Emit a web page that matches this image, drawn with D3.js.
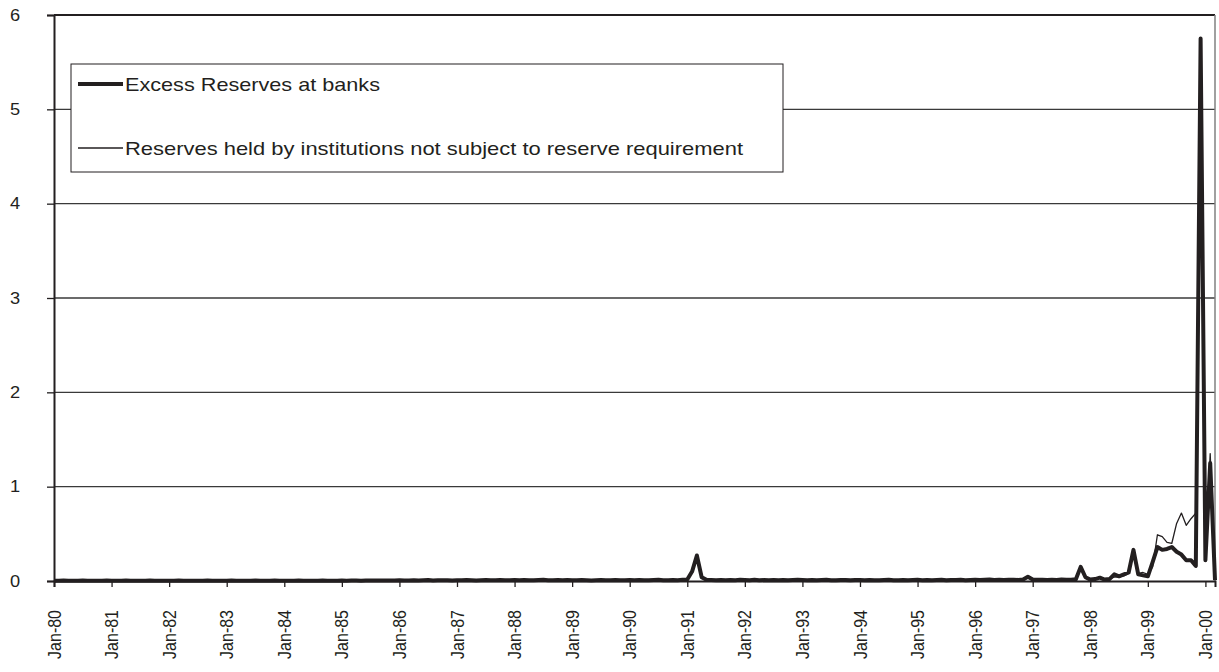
<!DOCTYPE html>
<html>
<head>
<meta charset="utf-8">
<script src="https://cdn.jsdelivr.net/npm/d3@7"></script>
<style>
  html, body { margin: 0; padding: 0; background: #fff; }
  svg { display: block; font-family: "Liberation Sans", Arial, Helvetica, sans-serif; }
</style>
</head>
<body>
<svg id="chart" width="1219" height="672"></svg>
<script>
// ---------------- DATA ----------------
const startYear = 1980;
const endYear = 2000;          // data runs Jan-80 .. Mar-00
const lastMonthOfEndYear = 3;

const yTicks = [0, 1, 2, 3, 4, 5, 6];

const seriesNames = [
  "Excess Reserves at banks",
  "Reserves held by institutions not subject to reserve requirement"
];

// Excess Reserves at banks (monthly, Jan-80 .. Mar-00)
const excessReserves = [
  0.003,0.002,0.004,0.003,0.002,0.003,0.004,0.002,0.003,0.003,0.002,0.004, // 1980
  0.003,0.002,0.003,0.004,0.002,0.003,0.002,0.003,0.004,0.003,0.002,0.003, // 1981
  0.002,0.003,0.004,0.003,0.002,0.003,0.003,0.002,0.004,0.003,0.003,0.002, // 1982
  0.003,0.004,0.002,0.003,0.003,0.002,0.004,0.003,0.002,0.003,0.004,0.003, // 1983
  0.002,0.003,0.003,0.004,0.002,0.003,0.003,0.002,0.004,0.003,0.002,0.003, // 1984
  0.004,0.003,0.005,0.004,0.003,0.005,0.006,0.004,0.005,0.004,0.006,0.005, // 1985
  0.008,0.005,0.006,0.009,0.005,0.007,0.010,0.006,0.008,0.007,0.009,0.006, // 1986
  0.009,0.007,0.010,0.008,0.006,0.009,0.011,0.007,0.008,0.010,0.007,0.009, // 1987
  0.010,0.008,0.011,0.009,0.007,0.010,0.012,0.008,0.009,0.011,0.008,0.010, // 1988
  0.009,0.007,0.010,0.008,0.006,0.009,0.011,0.007,0.008,0.010,0.007,0.009, // 1989
  0.010,0.008,0.011,0.009,0.007,0.010,0.012,0.008,0.009,0.011,0.008,0.012, // 1990
  0.015,0.100,0.270,0.040,0.012,0.010,0.009,0.011,0.008,0.010,0.009,0.012, // 1991
  0.011,0.009,0.012,0.008,0.010,0.009,0.011,0.008,0.010,0.009,0.011,0.012, // 1992
  0.010,0.009,0.011,0.008,0.010,0.012,0.009,0.008,0.011,0.010,0.009,0.011, // 1993
  0.010,0.008,0.011,0.009,0.007,0.010,0.012,0.008,0.009,0.011,0.008,0.010, // 1994
  0.012,0.009,0.011,0.008,0.010,0.013,0.009,0.011,0.010,0.012,0.009,0.011, // 1995
  0.014,0.010,0.012,0.015,0.011,0.013,0.010,0.012,0.014,0.011,0.016,0.045, // 1996
  0.015,0.012,0.014,0.011,0.013,0.010,0.016,0.012,0.014,0.018,0.150,0.040, // 1997
  0.015,0.020,0.035,0.015,0.020,0.070,0.050,0.070,0.090,0.330,0.070,0.060, // 1998
  0.050,0.200,0.360,0.330,0.340,0.360,0.310,0.280,0.220,0.220,0.160,5.750, // 1999
  0.220,1.250,0.010                                                        // 2000
];

// Reserves held by institutions not subject to reserve requirement
const nonSubjectReserves = [
  0.003,0.002,0.004,0.003,0.002,0.003,0.004,0.002,0.003,0.003,0.002,0.004, // 1980
  0.003,0.002,0.003,0.004,0.002,0.003,0.002,0.003,0.004,0.003,0.002,0.003, // 1981
  0.002,0.003,0.004,0.003,0.002,0.003,0.003,0.002,0.004,0.003,0.003,0.002, // 1982
  0.003,0.004,0.002,0.003,0.003,0.002,0.004,0.003,0.002,0.003,0.004,0.003, // 1983
  0.002,0.003,0.003,0.004,0.002,0.003,0.003,0.002,0.004,0.003,0.002,0.003, // 1984
  0.004,0.003,0.005,0.004,0.003,0.005,0.006,0.004,0.005,0.004,0.006,0.005, // 1985
  0.008,0.005,0.006,0.009,0.005,0.007,0.010,0.006,0.008,0.007,0.009,0.006, // 1986
  0.009,0.007,0.010,0.008,0.006,0.009,0.011,0.007,0.008,0.010,0.007,0.009, // 1987
  0.010,0.008,0.011,0.009,0.007,0.010,0.012,0.008,0.009,0.011,0.008,0.010, // 1988
  0.009,0.007,0.010,0.008,0.006,0.009,0.011,0.007,0.008,0.010,0.007,0.009, // 1989
  0.010,0.008,0.011,0.009,0.007,0.010,0.012,0.008,0.009,0.011,0.008,0.012, // 1990
  0.015,0.100,0.260,0.040,0.012,0.010,0.009,0.011,0.008,0.010,0.009,0.012, // 1991
  0.011,0.009,0.012,0.008,0.010,0.009,0.011,0.008,0.010,0.009,0.011,0.012, // 1992
  0.010,0.009,0.011,0.008,0.010,0.012,0.009,0.008,0.011,0.010,0.009,0.011, // 1993
  0.010,0.008,0.011,0.009,0.007,0.010,0.012,0.008,0.009,0.011,0.008,0.010, // 1994
  0.012,0.009,0.011,0.008,0.010,0.013,0.009,0.011,0.010,0.012,0.009,0.011, // 1995
  0.014,0.010,0.012,0.015,0.011,0.013,0.010,0.012,0.014,0.011,0.016,0.040, // 1996
  0.015,0.012,0.014,0.011,0.013,0.010,0.016,0.012,0.014,0.018,0.140,0.040, // 1997
  0.020,0.025,0.030,0.020,0.025,0.040,0.045,0.055,0.080,0.300,0.080,0.090, // 1998
  0.070,0.150,0.490,0.470,0.410,0.400,0.610,0.720,0.590,0.660,0.720,5.700, // 1999
  0.250,1.350,0.010                                                        // 2000
];

// ---------------- CHART ----------------
const monthNames = ["Jan","Feb","Mar","Apr","May","Jun","Jul","Aug","Sep","Oct","Nov","Dec"];
const categories = [];
for (let y = startYear; y <= endYear; y++) {
  const lastM = (y === endYear) ? lastMonthOfEndYear : 12;
  for (let m = 0; m < lastM; m++) categories.push(monthNames[m] + "-" + String(y).slice(2));
}
const janCategories = categories.filter(c => c.startsWith("Jan"));

const svg = d3.select("#chart");
const ink = "#231f20";
const X0 = 54, X1 = 1215, Y0 = 581, Y1 = 15;

const x = d3.scalePoint().domain(categories).range([X0, X1]);
const y = d3.scaleLinear().domain([0, 6]).range([Y0, Y1]);

// gridlines
svg.append("g").selectAll("line").data(yTicks.filter(t => t > 0 && t < 6)).join("line")
  .attr("x1", X0).attr("x2", X1)
  .attr("y1", d => y(d)).attr("y2", d => y(d))
  .attr("stroke", "#3a3a3a").attr("stroke-width", 1.3);

// plot border top & right
svg.append("line").attr("x1", X0).attr("x2", X1).attr("y1", y(6)).attr("y2", y(6))
  .attr("stroke", ink).attr("stroke-width", 2);
svg.append("line").attr("x1", X1).attr("x2", X1).attr("y1", y(6)).attr("y2", Y0)
  .attr("stroke", "#808080").attr("stroke-width", 1.5);

// series lines
const line = d3.line().x((d, i) => x(categories[i])).y(d => y(d));
svg.append("path").datum(nonSubjectReserves)
  .attr("d", line).attr("fill", "none").attr("stroke", ink)
  .attr("stroke-width", 1.3).attr("stroke-linejoin", "round");
svg.append("path").datum(excessReserves)
  .attr("d", line).attr("fill", "none").attr("stroke", ink)
  .attr("stroke-width", 4).attr("stroke-linejoin", "round");

// y axis
const yAxis = svg.append("g").attr("transform", `translate(${X0},0)`)
  .call(d3.axisLeft(y).tickValues(yTicks).tickSize(7).tickFormat(""));
yAxis.select(".domain").attr("stroke", ink).attr("stroke-width", 2);
yAxis.selectAll(".tick line").attr("stroke", ink).attr("stroke-width", 1.3);
svg.append("g").selectAll("text").data(yTicks).join("text")
  .attr("transform", d => `translate(15,${y(d)}) scale(1.14,1)`)
  .attr("text-anchor", "middle").attr("dy", "0.36em")
  .attr("font-size", 16).attr("fill", ink)
  .text(d => d);

// x axis
const xAxis = svg.append("g").attr("transform", `translate(0,${Y0})`)
  .call(d3.axisBottom(x).tickValues(janCategories).tickSize(6).tickFormat(""));
xAxis.select(".domain").attr("stroke", ink).attr("stroke-width", 2);
xAxis.selectAll(".tick line").attr("stroke", ink).attr("stroke-width", 1.3);
svg.append("g").selectAll("text").data(janCategories).join("text")
  .attr("transform", d => `translate(${x(d)},610) scale(1.14,1) rotate(-90)`)
  .attr("text-anchor", "end").attr("dy", "0.36em")
  .attr("font-size", 16).attr("fill", ink)
  .text(d => d);

// legend
const lg = svg.append("g");
lg.append("rect").attr("x", 71).attr("y", 64).attr("width", 712).attr("height", 108)
  .attr("fill", "#fff").attr("stroke", ink).attr("stroke-width", 1);
const legendItems = [
  { name: seriesNames[0], w: 4, yy: 84, len: 255 },
  { name: seriesNames[1], w: 1.3, yy: 148, len: 618 }
];
legendItems.forEach(it => {
  lg.append("line").attr("x1", 78).attr("x2", 123).attr("y1", it.yy).attr("y2", it.yy)
    .attr("stroke", ink).attr("stroke-width", it.w);
  lg.append("text").attr("x", 125).attr("y", it.yy).attr("dy", "0.36em")
    .attr("font-size", 19).attr("fill", ink)
    .attr("textLength", it.len).attr("lengthAdjust", "spacingAndGlyphs")
    .text(it.name);
});
</script>
</body>
</html>
